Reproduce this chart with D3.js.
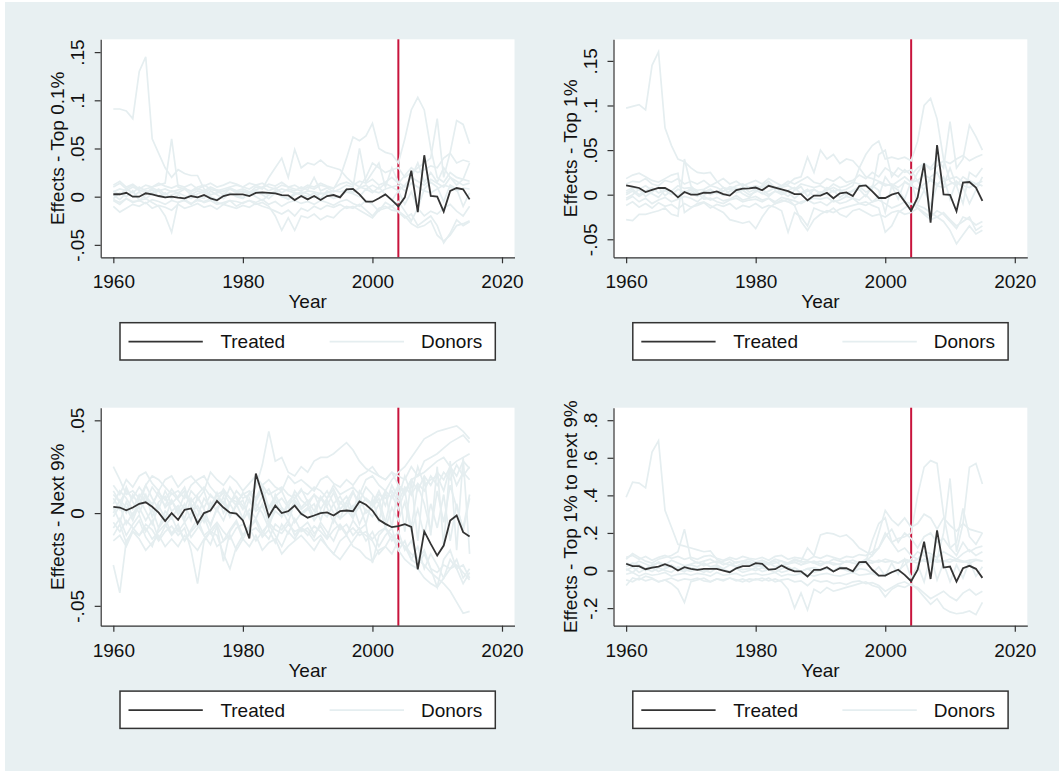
<!DOCTYPE html>
<html>
<head>
<meta charset="UTF-8">
<title>Synthetic control effects</title>
<style>
  body { margin: 0; background: #fff; }
  svg { display: block; }
  text { font-family: "Liberation Sans", Arial, sans-serif; fill: #111; }
</style>
</head>
<body>
<svg></svg>
<script src="https://d3js.org/d3.v7.min.js"></script>
<script>
let width = 1059, height = 771;

let years = d3.range(1960, 2016);
let treatYear = 2004;
let xTicks = [1960, 1980, 2000, 2020];

// treated effects, one value per year 1960-2015
let treatedTop01 = [.0025,.0025,.004,0,0,.0035,.0025,.0007,-.0007,0,
  -.001,-.0017,.0007,-.0007,.0017,-.0017,-.0038,.0007,.0024,.0024,
  .0024,.0007,.004,.0045,.004,.0035,.0017,.0014,-.0035,.0007,
  -.0028,.0007,-.0035,.0007,.0017,-.0007,.0076,.008,.0024,-.0052,
  -.0052,-.0017,.0024,-.0035,-.01,-.0007,.027,-.016,.043,.0007,
  0,-.0155,.006,.009,.0076,-.0028];
let treatedTop1 = [.0105,.009,.0075,.003,.0053,.0075,.0075,.0037,-.003,.003,
  0,0,.0022,.002,.0037,.0007,-.001,.0052,.0067,.007,
  .008,.005,.010,.008,.006,.004,.0007,.0007,-.0063,-.001,
  -.001,.0022,-.004,.0015,.0026,-.0015,.0097,.0105,.0037,-.0037,
  -.0037,0,.0022,-.0078,-.018,-.003,.035,-.0314,.0557,.0004,
  -.0003,-.0186,.0135,.0142,.008,-.007];
let treatedNext9 = [.0034,.003,.0015,.003,.005,.0058,.0034,.0002,-.0043,0,
  -.0036,.0018,.0025,-.0056,0,.0014,.0065,.003,.0002,-.0003,
  -.004,-.0137,.0213,.010,-.0018,.0041,0,.001,.004,-.0004,
  -.0025,-.0013,0,.0004,-.0013,.001,.0014,.001,.0063,.0045,
  .0014,-.0036,-.0058,-.0076,-.007,-.006,-.0074,-.0303,-.0099,-.0166,
  -.0229,-.0175,-.004,-.0013,-.0103,-.0126];
let treatedRatio = [.036,.023,.023,.007,.016,.021,.034,.021,0,.018,
  .009,.004,.009,.009,.009,0,-.009,.012,.023,.023,
  .039,.036,.005,.007,.027,.009,-.004,-.004,-.032,.004,
  .004,.018,-.005,.012,.012,-.004,.045,.046,.004,-.027,
  -.027,-.009,.004,-.023,-.057,.004,.153,-.045,.214,.016,
  .021,-.059,.012,.025,.009,-.039];

// donor (placebo) effects, in thousandths
let donorsTop01 = [
  [91,91,89,81,130,145,60,45,30,20, 28,24,22,22,8,2,4,6,8,6, 5,3,6,4,2,5,8,6,4,3, 6,5,3,4,6,5,7,5,9,12, 6,4,8,10,12,6,14,10,6,4, 8,12,10,6,9,8],
  [10,14,8,12,6,8,10,12,14,60, 10,8,6,10,12,8,6,8,10,12, 10,8,12,14,10,8,12,10,8,6, 10,8,12,10,8,20,40,62,58,63, 76,50,46,44,35,60,90,103,90,50, 20,15,25,20,18,16],
  [-4,-8,-2,-6,-4,-2,-6,-10,-20,-37, -6,-4,-8,-2,-6,-4,-8,-6,-4,-10, -6,-4,-8,-6,-10,-20,-35,-22,-35,-20, -22,-18,-24,-20,-22,-15,-10,-12,-8,-14, -20,-12,-10,-14,-15,-20,-28,-32,-30,-25, -40,-46,-40,-30,-28,-25],
  [6,2,8,4,10,6,4,8,2,6, 4,8,2,6,4,8,6,2,8,4, 6,4,10,8,20,30,40,20,49,30, 35,33,38,32,30,28,20,14,10,8, 12,8,14,10,6,12,20,16,12,18, 14,10,20,16,12,14],
  [-2,4,0,6,-4,2,8,0,4,-2, 2,-4,4,0,-2,6,2,-2,4,0, -2,4,0,-4,2,6,0,-2,4,2, 0,4,-2,6,2,0,8,4,10,20, 35,30,25,28,30,20,25,30,35,40, 81,20,46,79,75,55],
  [12,16,10,13,8,12,10,14,11,9, 12,10,13,8,11,14,10,12,15,13, 10,14,12,9,13,11,15,10,12,8, 12,10,14,11,9,13,15,12,16,14, 18,12,15,20,14,22,30,25,28,32, 30,40,45,35,38,36],
  [-10,-16,-12,-8,-10,-6,-12,-9,-11,-14, -8,-12,-10,-7,-11,-9,-13,-8,-10,-12, -9,-11,-7,-10,-12,-15,-18,-14,-20,-12, -15,-10,-13,-9,-11,-8,-12,-10,-14,-18, -22,-14,-12,-10,-16,-22,-18,-30,-25,-20, -30,-48,-38,-24,-30,-26],
  [2,-3,4,0,5,-2,3,6,-1,2, 4,1,-2,3,5,0,-3,2,4,1, -1,3,5,2,-2,4,1,-3,2,5, 3,-1,4,2,-2,1,5,3,0,8, 4,10,2,-4,6,-8,5,-12,8,15, 10,-5,12,8,-10,4],
  [5,8,6,10,7,4,9,6,8,5, 7,9,5,8,6,10,7,5,9,6, 8,5,7,10,6,9,4,8,6,10, 7,20,6,9,5,8,12,10,50,15, 25,35,10,30,15,10,20,35,15,25, 15,30,20,12,18,35],
  [-3,-6,-2,-5,-4,-7,-3,-5,-8,-4, -6,-3,-7,-4,-5,-2,-6,-8,-4,-5, -7,-4,-6,-3,-8,-5,-10,-6,-4,-7, -5,-8,-4,-6,-9,-5,-3,-7,-10,-4, -8,-15,-6,-10,-5,-15,-25,-12,-20,-15, -18,-12,-8,-15,-20,-10]
];
let donorsTop1 = [
  [97,99,101,95,145,160,75,55,40,37, 30,25,24,25,15,8,6,10,12,8, 10,8,12,6,8,10,6,12,10,8, 10,6,12,8,10,14,12,10,8,14, 10,12,8,14,10,6,12,16,10,8, 12,14,10,8,12,10],
  [-28,-29,-22,-22,-20,-18,-15,-22,-24,40, 10,2,-5,-4,-8,-10,-6,-4,-8,-6, -5,-8,-4,-10,-6,-8,-12,-8,-6,-10, -8,-12,-6,-10,-8,-4,-10,-12,-8,-6, -10,-15,-12,-8,-10,-15,-20,-25,-18,-22, -30,-38,-25,-28,-34,-30],
  [18,22,24,20,16,14,18,22,24,-20, -15,-10,-8,-12,-16,-20,-28,-30,-32,-30, -38,-25,-15,-10,-8,-5,-12,-30,-40,-28, -22,-18,-20,-16,-14,-12,-10,-8,-12,-15, -42,-35,-20,-15,-10,-12,-15,-20,-25,-30, -40,-55,-45,-35,-44,-40],
  [4,8,6,10,5,8,6,4,10,7, 8,5,6,10,8,4,9,7,5,8, 6,10,15,8,10,12,18,20,42,25, 50,40,45,35,40,38,30,20,18,15, 12,10,15,20,14,16,22,18,12,15, 18,20,14,16,12,15],
  [2,6,0,4,8,2,5,0,6,3, 5,0,3,6,1,4,7,2,5,0, 3,6,0,4,2,5,8,1,4,6, 2,5,8,4,6,10,30,45,55,60, 40,42,40,42,38,60,100,108,85,40, 15,10,20,15,12,10],
  [-6,-2,-8,-4,-10,-6,-3,-8,-5,-2, -4,-8,-2,-6,-3,-7,-5,-1,-6,-4, -2,-6,-4,-8,-3,-5,-7,-10,-6,-4, -5,-3,-8,-6,-2,-4,-6,0,-8,-2, 20,10,-5,15,10,25,35,30,40,30, 82,30,40,78,65,50],
  [12,15,14,18,12,10,16,14,18,12, 15,12,16,10,14,18,12,15,10,13, 16,12,18,14,10,15,12,16,20,14, 12,18,15,20,14,16,22,18,25,20, 30,25,20,28,22,30,35,28,32,38, 35,40,44,38,42,45],
  [-12,-8,-14,-10,-15,-9,-13,-11,-16,-10, -14,-12,-9,-15,-11,-13,-10,-16,-12,-14, -10,-15,-12,-14,-18,-42,-20,-25,-35,-15, -18,-20,-15,-22,-25,-18,-16,-20,-24,-22, -25,-20,-18,-22,-20,-15,-22,-28,-25,-20, -28,-35,-30,-25,-40,-35],
  [0,4,-2,3,1,-3,5,2,-1,4, 2,-2,5,0,3,-1,4,6,1,-3, 5,2,-2,4,0,3,-4,2,6,-2, 3,0,5,-3,2,4,6,-2,10,5, -20,10,5,-5,15,-10,5,-12,10,20, -5,15,8,-10,5,20],
  [-4,0,6,-2,3,8,-1,4,-3,2, 7,3,-1,5,2,8,0,4,9,3, 6,1,4,8,3,-2,5,9,-2,6, 1,8,3,6,-1,5,9,3,6,45, 50,20,30,25,28,15,5,20,25,10, 30,10,-10,25,20,30]
];
let donorsNext9 = [
  [25,18,10,12,8,15,20,18,14,10, 12,8,15,18,20,14,10,12,8,6, 10,12,8,15,10,12,14,10,8,12, 10,14,12,8,15,10,12,14,10,18, 20,15,12,18,22,25,30,35,40,42, 44,45,46,47,44,40],
  [-28,-43,-15,-10,-12,-8,-14,-10,-6,-12, -8,-15,-10,-6,-12,-9,-5,-10,-14,-8, -6,-10,-8,-12,-5,-9,-11,-6,-10,-8, -12,-7,-10,-14,-9,-6,-11,-8,-12,-10, -14,-10,-8,-12,-15,-18,-22,-25,-28,-32, -35,-38,-42,-48,-54,-53],
  [10,6,12,8,14,9,5,11,7,13, 8,12,6,10,14,9,7,11,5,12, 8,10,14,26,44,28,30,22,20,25, 22,28,30,30,32,35,38,34,28,24, 22,20,18,22,20,18,25,20,28,30, 32,35,38,40,42,38],
  [-5,-10,-4,-8,-12,-6,-9,-15,-10,-7, -12,-8,-20,-38,-15,-10,-12,-22,-30,-18, -12,-8,-15,-10,-6,-12,-18,-10,-14,-8, -10,-15,-12,-18,-22,-25,-20,-15,-10,-12, -15,-22,-18,-12,-20,-25,-28,-30,-35,-38, -40,-35,-30,-28,-32,-36],
  [15,10,18,14,20,22,16,12,18,20, 14,18,20,16,12,22,18,15,20,17, 12,16,20,15,18,14,12,20,16,18, 15,12,18,20,16,14,18,15,20,22, 25,20,18,22,15,12,18,20,22,25, 28,30,25,28,30,32],
  [-15,-12,-18,-10,-14,-20,-16,-12,-18,-14, -18,-12,-16,-20,-14,-10,-18,-15,-12,-20, -14,-18,-12,-20,-16,-14,-22,-18,-15,-12, -16,-20,-14,-18,-22,-15,-12,-18,-20,-24, -26,-20,-18,-22,-15,-18,-25,-28,-22,-30, -32,-28,-30,-25,-35,-30],
  [5,12,8,2,10,6,14,9,4,11, 7,2,12,8,3,10,6,13,8,4, 11,6,2,9,13,5,8,3,12,7, 4,10,7,12,5,9,3,11,6,14, 10,5,12,8,15,10,18,12,20,15, 22,18,25,20,28,24],
  [-2,4,-6,0,3,-4,2,-8,1,-3, 3,-5,0,4,-2,-6,2,-4,5,-1, -4,2,-3,5,-6,1,-2,4,-5,0, 3,-4,1,-2,5,-3,0,4,-6,2, -2,5,-8,3,-4,6,-10,2,-12,5, -8,10,-15,5,-10,8],
  [8,2,14,6,0,9,4,12,3,7, 1,10,5,-2,8,3,11,0,6,9, 4,-1,7,12,2,8,-2,6,10,3, 7,1,9,4,11,2,6,12,3,8, 5,12,4,15,8,20,10,25,15,18, 20,12,25,15,22,18],
  [-8,-3,-12,-6,-1,-10,-4,-14,-7,-2, -10,-5,-13,-8,-2,-11,-6,-15,-9,-4, -12,-7,-3,-10,-14,-6,-9,-4,-12,-8, -5,-11,-7,-13,-3,-9,-6,-12,-8,-15, -10,-18,-12,-8,-20,-15,-25,-18,-30,-22, -28,-35,-25,-30,-38,-32],
  [3,-5,6,-2,8,1,-6,4,-3,7, -1,5,-4,9,2,-7,3,6,-2,4, 7,-3,5,0,-8,4,2,-5,6,-1, 2,5,-4,7,0,-3,6,-2,4,-6, 8,-5,12,-8,15,-10,18,-15,20,-12, 25,-18,28,-20,30,-22],
  [12,6,0,10,4,15,8,2,12,5, 9,14,3,7,12,1,10,5,14,8, 2,11,6,14,3,9,12,4,8,13, 6,10,2,8,13,5,9,1,12,7, 4,10,8,12,6,14,10,16,12,20, 15,22,18,26,20,25],
  [-12,-6,-16,-9,-4,-13,-18,-8,-3,-11, -6,-15,-9,-3,-12,-17,-7,-26,-10,-5, -14,-8,-4,-13,-9,-16,-6,-11,-3,-10, -8,-13,-5,-10,-15,-7,-12,-4,-9,-6, -27,-12,-8,-15,-10,-20,-15,-25,-20,-30, -40,-25,-20,-30,-28,-35],
  [0,7,3,-4,5,10,-2,6,9,1, 4,-3,8,2,-5,6,1,9,-2,5, -3,8,1,4,-4,10,3,-1,7,2, 5,-2,8,3,-5,6,2,-3,9,0, 3,8,-5,10,2,12,-8,15,5,-10, 12,-5,15,3,-8,10]
];
let donorsRatio = [
  [390,470,465,440,630,690,320,230,140,130, 120,110,100,105,60,40,30,45,50,40, 35,45,30,40,50,35,45,30,40,50, 35,45,40,30,50,40,35,45,40,55, 45,50,40,60,50,40,60,55,45,50, 60,50,45,55,60,50],
  [60,90,70,50,40,60,70,80,100,220, 60,40,50,60,40,50,60,40,50,60, 45,55,40,60,50,40,55,45,50,40, 50,40,60,50,45,55,40,60,50,45, 60,50,40,55,45,60,50,45,55,50, 45,60,50,40,55,50],
  [-80,-40,-50,-30,-40,-60,-50,-70,-100,-170, -60,-50,-40,-60,-45,-55,-40,-50,-60,-45, -50,-40,-55,-45,-60,-100,-200,-120,-210,-100, -120,-90,-110,-100,-90,-80,-70,-60,-80,-90, -140,-100,-80,-90,-70,-100,-140,-180,-150,-200, -220,-230,-225,-215,-235,-170],
  [20,40,30,10,30,40,20,30,10,20, 30,20,40,20,30,10,30,20,40,30, 20,30,40,20,30,40,60,50,120,80, 190,200,195,180,190,160,120,100,80,200, 320,270,240,280,230,250,300,280,220,280, 240,210,250,220,210,200],
  [10,-10,20,0,15,-5,10,25,5,-5, 15,5,-10,10,20,0,-5,15,5,10, 0,15,5,-10,10,20,0,-5,10,15, 5,10,0,20,10,-5,30,50,80,120, 200,150,170,180,200,400,550,585,570,300, 120,80,150,100,120,130],
  [-20,-10,-30,-15,-25,-20,-10,-30,-20,-15, -25,-15,-20,-30,-10,-25,-20,-15,-30,-20, -15,-25,-20,-10,-30,-20,-25,-15,-20,-30, -20,-15,-25,-30,-20,-10,-25,-20,-15,-30, -20,-10,0,30,60,100,80,50,60,200, 490,100,250,550,570,460],
  [70,80,60,75,55,70,80,65,75,60, 70,60,75,80,65,55,70,60,75,65, 60,70,55,75,80,60,70,65,55,75, 65,80,70,60,75,70,85,80,100,120, 180,220,150,200,170,120,180,200,150,170, 120,150,330,180,140,200],
  [-50,-60,-40,-55,-45,-60,-50,-40,-55,-45, -50,-40,-55,-60,-45,-50,-40,-55,-45,-60, -45,-55,-40,-60,-50,-45,-60,-55,-80,-50, -60,-55,-70,-65,-75,-60,-55,-70,-65,-80, -110,-90,-70,-60,-80,-90,-120,-150,-130,-110, -140,-160,-120,-100,-130,-110],
  [0,20,-10,10,-5,15,0,-10,20,5, -5,10,0,-10,15,5,-5,10,-10,0, 15,-5,5,10,-10,0,15,-5,10,-10, 0,10,-5,15,0,-10,10,5,-15,20, -30,40,-20,60,-40,30,-60,80,-50,40, -60,30,-40,50,-30,20],
  [40,30,50,35,20,45,30,55,40,25, 35,45,25,40,50,30,45,20,35,50, 30,20,40,50,25,35,45,30,50,40, 25,45,30,35,50,40,30,45,160,250, 280,150,100,120,80,60,100,90,70,100, 80,60,90,110,80,100]
];

// y axis ticks and Stata-style labels
let yTicksTop01 = [-0.05, 0, 0.05, 0.1, 0.15];
let yLabelsTop01 = ["-.05", "0", ".05", ".1", ".15"];
let yTicksTop1 = [-0.05, 0, 0.05, 0.1, 0.15];
let yLabelsTop1 = ["-.05", "0", ".05", ".1", ".15"];
let yTicksNext9 = [-0.05, 0, 0.05];
let yLabelsNext9 = ["-.05", "0", ".05"];
let yTicksRatio = [-0.2, 0, 0.2, 0.4, 0.6, 0.8];
let yLabelsRatio = ["-.2", "0", ".2", ".4", ".6", ".8"];

let panels = [
  {left: 100.7, top: 39.3, title: "Effects - Top 0.1%", treated: treatedTop01, donors: donorsTop01, domain: [-0.0629, 0.1633], ticks: yTicksTop01, labels: yLabelsTop01},
  {left: 613.5, top: 39.3, title: "Effects - Top 1%", treated: treatedTop1, donors: donorsTop1, domain: [-0.0702, 0.1742], ticks: yTicksTop1, labels: yLabelsTop1},
  {left: 100.7, top: 407.7, title: "Effects - Next 9%", treated: treatedNext9, donors: donorsNext9, domain: [-0.0607, 0.0568], ticks: yTicksNext9, labels: yLabelsNext9},
  {left: 613.5, top: 407.7, title: "Effects - Top 1% to next 9%", treated: treatedRatio, donors: donorsRatio, domain: [-0.2936, 0.8665], ticks: yTicksRatio, labels: yLabelsRatio}
];

let pw = 413.8, ph = 218;
let fontSize = 19;
let bg = "#e8f0f2", donorColor = "#e5eef0", treatColor = "#333333", redColor = "#c8143c";

let svg = d3.select("svg")
  .attr("width", width)
  .attr("height", height);

svg.append("rect")
  .attr("x", 5).attr("y", 2)
  .attr("width", width - 5).attr("height", height - 2)
  .attr("fill", bg);

let x = d3.scaleLinear().domain([1958.05, 2021.93]).range([0, pw]);

panels.forEach(p => {
  let y = d3.scaleLinear().domain(p.domain).range([ph, 0]);
  let g = svg.append("g").attr("transform", "translate(" + p.left + "," + p.top + ")");

  g.append("rect").attr("width", pw).attr("height", ph).attr("fill", "#fff");

  // treatment year
  g.append("line")
    .attr("x1", x(treatYear)).attr("x2", x(treatYear))
    .attr("y1", 0).attr("y2", ph)
    .attr("stroke", redColor).attr("stroke-width", 2);

  let line = d3.line().x((d, i) => x(years[i])).y(d => y(d));

  g.selectAll(".donor")
    .data(p.donors)
    .enter()
    .append("path")
    .attr("class", "donor")
    .attr("d", d => line(d.map(v => v / 1000)))
    .attr("fill", "none")
    .attr("stroke", donorColor)
    .attr("stroke-width", 1.7);

  g.append("path")
    .attr("d", line(p.treated))
    .attr("fill", "none")
    .attr("stroke", treatColor)
    .attr("stroke-width", 1.8);

  // x axis
  let xa = g.append("g")
    .attr("transform", "translate(0," + ph + ")")
    .call(d3.axisBottom(x).tickValues(xTicks).tickFormat(d3.format("d")).tickSize(6).tickSizeOuter(0));
  xa.selectAll("text").attr("y", 31).attr("dy", 0);

  // y axis
  let ya = g.append("g")
    .call(d3.axisLeft(y).tickValues(p.ticks).tickFormat((d, i) => p.labels[i]).tickSize(6).tickSizeOuter(0));
  ya.selectAll("text")
    .attr("x", 0).attr("dy", 0)
    .attr("y", 0)
    .attr("text-anchor", "middle")
    .attr("transform", "translate(-16.3,0) rotate(-90)");

  [xa, ya].forEach(a => {
    a.attr("font-size", fontSize)
      .attr("font-family", "'Liberation Sans', Arial, sans-serif")
      .attr("color", "#333");
    a.select(".domain").attr("stroke-width", 1.2);
    a.selectAll("line").attr("stroke-width", 1.2);
    a.selectAll("text").attr("fill", "#111");
  });

  g.append("text")
    .attr("x", pw / 2).attr("y", ph + 51)
    .attr("text-anchor", "middle")
    .attr("font-size", fontSize)
    .text("Year");

  g.append("text")
    .attr("transform", "translate(-37," + (ph / 2) + ") rotate(-90)")
    .attr("text-anchor", "middle")
    .attr("font-size", fontSize)
    .text(p.title);

  // legend
  let lg = g.append("g").attr("transform", "translate(19.3,283.4)");
  lg.append("rect")
    .attr("width", 375.3).attr("height", 37.3)
    .attr("fill", "#fff")
    .attr("stroke", "#333").attr("stroke-width", 1.5);
  lg.append("line")
    .attr("x1", 8.5).attr("x2", 82.8).attr("y1", 19).attr("y2", 19)
    .attr("stroke", treatColor).attr("stroke-width", 1.8);
  lg.append("text")
    .attr("x", 100.4).attr("y", 25.8)
    .attr("font-size", fontSize)
    .text("Treated");
  lg.append("line")
    .attr("x1", 209.6).attr("x2", 284).attr("y1", 19).attr("y2", 19)
    .attr("stroke", donorColor).attr("stroke-width", 1.8);
  lg.append("text")
    .attr("x", 301).attr("y", 25.8)
    .attr("font-size", fontSize)
    .text("Donors");
});
</script>
</body>
</html>
